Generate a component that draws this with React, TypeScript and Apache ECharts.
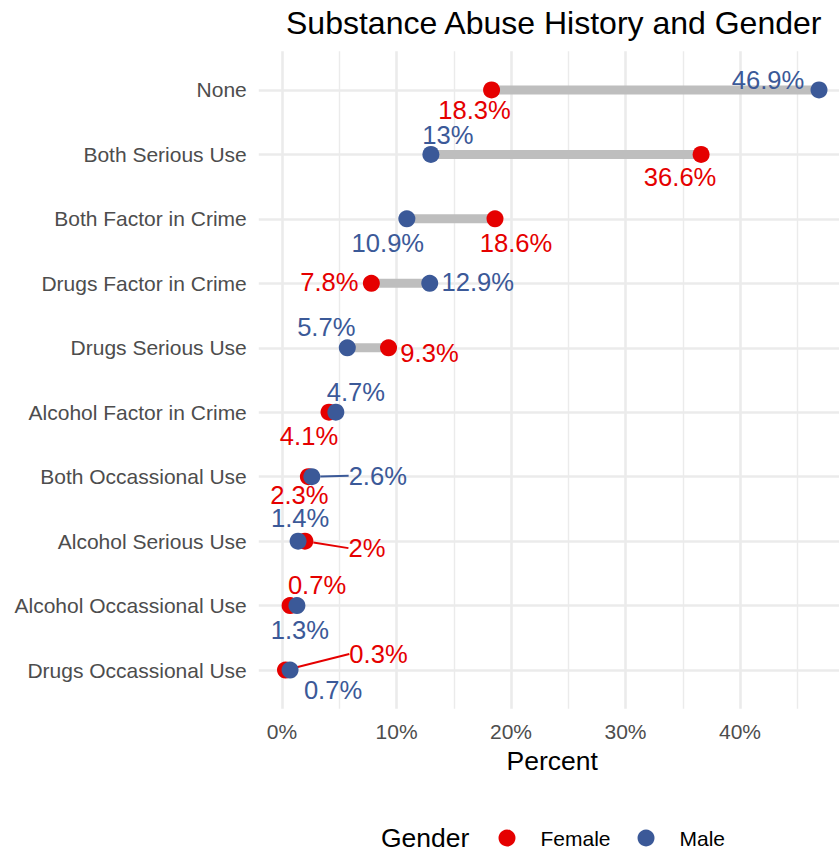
import React, { useEffect, useRef } from "react";
import * as echarts from "echarts";

const categories = [
  "None",
  "Both Serious Use",
  "Both Factor in Crime",
  "Drugs Factor in Crime",
  "Drugs Serious Use",
  "Alcohol Factor in Crime",
  "Both Occassional Use",
  "Alcohol Serious Use",
  "Alcohol Occassional Use",
  "Drugs Occassional Use",
];
const female = [18.3, 36.6, 18.6, 7.8, 9.3, 4.1, 2.3, 2, 0.7, 0.3];
const male = [46.9, 13, 10.9, 12.9, 5.7, 4.7, 2.6, 1.4, 1.3, 0.7];
const xMajorTicks = [0, 10, 20, 30, 40];
const xMinorTicks = [5, 15, 25, 35, 45];

// label placement (pixel offsets from each point, like ggrepel result)
const femaleLabelOffsets = [[-17, 20], [-21, 23], [21, 24], [-42, -1], [41, 5], [-20, 24], [-9, 18], [62, 7], [27, -21], [93, -16]];
const maleLabelOffsets = [[-51, -10], [17, -19], [-19, 24], [48, -1], [-21, -21], [20, -20], [66, -1], [2, -23], [3, 24], [43, 20]];
const femaleLeader = [7, 9];
const maleLeader = [6];

const RED = "#E50000";
const BLUE = "#3B5998";
const FONT = "'Liberation Sans', Arial, sans-serif";

export default function App() {
  const ref = useRef<HTMLDivElement>(null);
  useEffect(() => {
    if (!ref.current) return;
    const chart = echarts.init(ref.current, undefined, { renderer: "svg" });
    const yIdx = categories.map((_, i) => i + 1);

    const makeScatter = (name: string, vals: number[], color: string, offs: number[][], leaders: number[], z: number) => ({
      name,
      type: "scatter",
      z,
      symbol: "circle",
      symbolSize: 17,
      itemStyle: { color, opacity: 1 },
      data: vals.map((v, i) => ({
        value: [v, i + 1],
        labelLine: leaders.includes(i)
          ? { show: true, lineStyle: { color, width: 2 } }
          : { show: false },
      })),
      label: {
        show: true,
        position: "inside",
        formatter: (p: any) => `${p.value[0]}%`,
        color,
        fontSize: 25.6,
        fontFamily: FONT,
      },
      labelLayout: (p: any) => ({ dx: offs[p.dataIndex][0], dy: offs[p.dataIndex][1] }),
      labelLine: { show: false },
      emphasis: { disabled: true },
    });

    chart.setOption({
      animation: false,
      backgroundColor: "#ffffff",
      textStyle: { fontFamily: FONT },
      title: {
        text: "Substance Abuse History and Gender",
        left: 286,
        top: 7,
        padding: 0,
        textStyle: { fontSize: 32, fontWeight: "normal", color: "#000000", fontFamily: FONT },
      },
      graphic: [
        {
          type: "text",
          x: 381,
          y: 838,
          style: {
            text: "Gender",
            fontSize: 26.5,
            fontFamily: FONT,
            fill: "#000000",
            align: "left",
            verticalAlign: "middle",
          },
        },
      ],
      legend: {
        data: ["Female", "Male"],
        left: 498.5,
        top: 827.5,
        padding: 0,
        icon: "circle",
        itemWidth: 17,
        itemHeight: 17,
        itemGap: 27,
        textStyle: { fontSize: 21, color: "#000000", fontFamily: FONT, padding: [0, 0, 0, 20] },
      },
      grid: {
        left: 258.8,
        width: 586.9,
        top: 51.3,
        bottom: 141.3,
        containLabel: false,
        outerBoundsMode: "none",
      },
      xAxis: {
        type: "value",
        min: -2.03,
        max: 49.23,
        name: "Percent",
        nameLocation: "middle",
        nameGap: 37.5,
        nameTextStyle: { fontSize: 26.5, color: "#000000", fontFamily: FONT },
        axisLine: { show: false },
        axisTick: { show: false },
        splitLine: { show: false },
        axisLabel: {
          customValues: xMajorTicks,
          formatter: (v: number) => `${v}%`,
          fontSize: 21,
          color: "#4D4D4D",
          margin: 12.5,
          fontFamily: FONT,
        },
      },
      yAxis: {
        type: "value",
        inverse: true,
        min: 0.4,
        max: 10.6,
        axisLine: { show: false },
        axisTick: { show: false },
        splitLine: { show: false },
        axisLabel: {
          customValues: yIdx,
          formatter: (v: number) => categories[Math.round(v) - 1] ?? "",
          fontSize: 21,
          color: "#4D4D4D",
          margin: 12,
          fontFamily: FONT,
        },
      },
      series: [
        {
          name: "grid",
          type: "line",
          z: 0,
          data: [],
          silent: true,
          markLine: {
            silent: true,
            z: 0,
            symbol: "none",
            label: { show: false },
            animation: false,
            data: [
              ...xMinorTicks.map((v) => ({ xAxis: v, lineStyle: { color: "#EBEBEB", width: 1.4, type: "solid" } })),
              ...xMajorTicks.map((v) => ({ xAxis: v, lineStyle: { color: "#EBEBEB", width: 2.6, type: "solid" } })),
              ...yIdx.map((v) => ({ yAxis: v, lineStyle: { color: "#EBEBEB", width: 2.6, type: "solid" } })),
            ],
          },
        },
        {
          name: "segments",
          type: "custom",
          z: 2,
          silent: true,
          data: female.map((f, i) => [f, male[i], i + 1]),
          encode: { x: [0, 1], y: 2 },
          renderItem: (_params: any, api: any) => {
            const p1 = api.coord([api.value(0), api.value(2)]);
            const p2 = api.coord([api.value(1), api.value(2)]);
            return {
              type: "line",
              shape: { x1: p1[0], y1: p1[1], x2: p2[0], y2: p2[1] },
              style: { stroke: "#BEBEBE", lineWidth: 9, lineCap: "butt" },
            };
          },
        },
        makeScatter("Female", female, RED, femaleLabelOffsets, femaleLeader, 3),
        makeScatter("Male", male, BLUE, maleLabelOffsets, maleLeader, 4),
      ],
    });
    return () => chart.dispose();
  }, []);
  return <div ref={ref} style={{ width: 839, height: 850, position: "absolute", left: 0, top: 0 }} />;
}
